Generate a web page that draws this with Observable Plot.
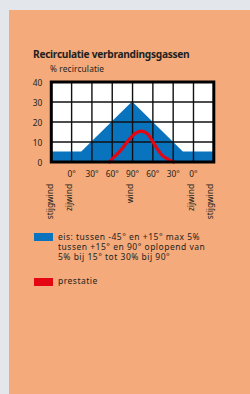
<!DOCTYPE html>
<html><head><meta charset="utf-8">
<script src="https://cdn.jsdelivr.net/npm/d3@7"></script>
<script src="https://cdn.jsdelivr.net/npm/@observablehq/plot@0.6"></script>
<style>
html,body{margin:0;padding:0;width:250px;height:394px;overflow:hidden;background:#e3e6ea;font-family:"Noto Sans",sans-serif;color:#231f20}
#panel{position:absolute;left:9px;top:10px;width:241px;height:384px;background:#f4aa7b}
.t{position:absolute;white-space:nowrap;line-height:1}
#title{left:33px;top:48.6px;font-size:10.2px;font-weight:bold;letter-spacing:-0.3px}
#ylab{left:50px;top:65.4px;font-size:8.3px;letter-spacing:0.15px}
#chart{position:absolute;left:0;top:60px}
.sw{position:absolute;left:34px;width:19px;height:8px}
.lg{position:absolute;left:58px;font-size:8.5px;line-height:10px;letter-spacing:0.5px;white-space:nowrap}
</style></head>
<body>
<div id="panel"></div>
<div class="t" id="title">Recirculatie verbrandingsgassen</div>
<div class="t" id="ylab">% recirculatie</div>
<div id="chart"></div>
<div class="sw" style="top:233px;background:#0a73bd"></div>
<div class="lg" style="top:231.7px">eis: tussen -45° en +15° max 5%<br>tussen +15° en 90° oplopend van<br>5% bij 15° tot 30% bij 90°</div>
<div class="sw" style="top:278px;background:#e30613"></div>
<div class="lg" style="top:275.7px">prestatie</div>
<script>
// x positions: -30 = left edge, 0..180 = tick positions (0°,30°,60°,90°,60°,30°,0°), 210 = right edge
const xTicks = [0, 30, 60, 90, 120, 150, 180];
const xTickLabels = ["0°", "30°", "60°", "90°", "60°", "30°", "0°"];
const yTicks = [0, 10, 20, 30, 40];

// requirement (eis)
const eisX = [-30, 15, 90, 165, 210];
const eisY = [5, 5, 30, 5, 5];

// performance (prestatie)
const presX = [56, 60, 70, 80, 90, 97, 103.5, 112, 119, 126.5, 134, 144, 151];
const presY = [0, 1.6, 4.9, 9.1, 13.2, 14.9, 15.4, 14.1, 10.7, 6.6, 3.2, 1.1, 0];

// wind direction labels
const windLabels = ["stijgwind", "zijwind", "wind", "zijwind", "stijgwind"];
const windX = [-28, 0, 91, 180.5, 209];

const eis = eisX.map((x, i) => ({x, y: eisY[i]}));
const pres = presX.map((x, i) => ({x, y: presY[i]}));
const wind = windLabels.map((label, i) => ({label, x: windX[i]}));

const plot = Plot.plot({
  width: 250,
  height: 162,
  marginLeft: 50.8,
  marginRight: 36.7,
  marginTop: 21.5,
  marginBottom: 60.5,
  style: {background: "transparent", fontFamily: "Noto Sans, sans-serif", color: "#231f20", overflow: "visible"},
  x: {domain: [-30, 210]},
  y: {domain: [0, 40]},
  marks: [
    Plot.frame({fill: "white", stroke: null}),
    Plot.areaY(eis, {x: "x", y: "y", fill: "#0a73bd"}),
    Plot.ruleX(xTicks, {stroke: "#111", strokeWidth: 1.4}),
    Plot.ruleY([10, 20, 30], {stroke: "#111", strokeWidth: 1.4}),
    Plot.line(pres, {x: "x", y: "y", stroke: "#e30613", strokeWidth: 3.2, curve: "catmull-rom"}),
    Plot.frame({stroke: "#000", strokeWidth: 3}),
    Plot.axisY(yTicks, {tickSize: 0, tickPadding: 9, fontSize: 8.3, label: null, dy: 1.5}),
    Plot.axisX(xTicks, {tickSize: 0, tickPadding: 9.5, fontSize: 8.3, label: null, tickFormat: (d, i) => xTickLabels[i]}),
    Plot.text(wind, {x: "x", text: "label", frameAnchor: "bottom", dy: 22, rotate: -90, textAnchor: "end", fontSize: 8.3, fill: "#231f20"})
  ]
});
document.getElementById("chart").appendChild(plot);
</script>
</body></html>
